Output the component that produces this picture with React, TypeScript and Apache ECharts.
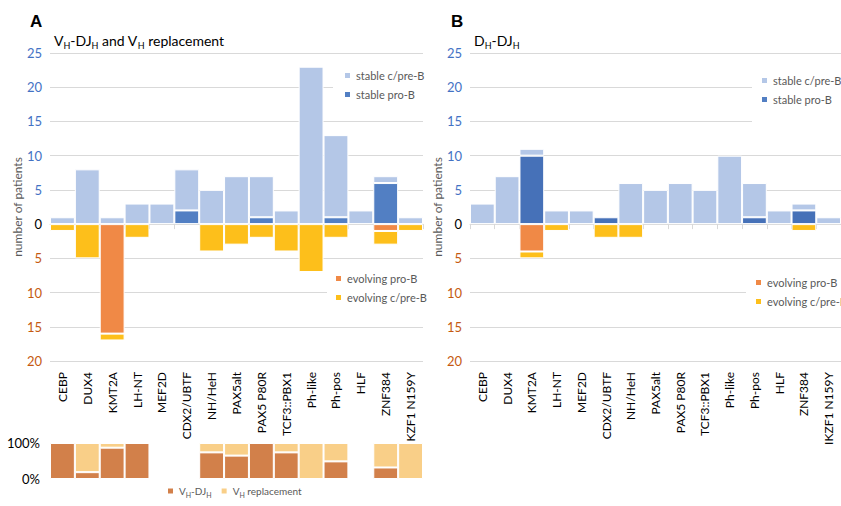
import React, { useEffect, useRef } from "react";
import * as echarts from "echarts";

const categoriesA = ["CEBP", "DUX4", "KMT2A", "LH-NT", "MEF2D", "CDX2/UBTF", "NH/HeH", "PAX5alt", "PAX5 P80R", "TCF3::PBX1", "Ph-like", "Ph-pos", "HLF", "ZNF384", "KZF1 N159Y"];
const categoriesB = ["CEBP", "DUX4", "KMT2A", "LH-NT", "MEF2D", "CDX2/UBTF", "NH/HeH", "PAX5alt", "PAX5 P80R", "TCF3::PBX1", "Ph-like", "Ph-pos", "HLF", "ZNF384", "IKZF1 N159Y"];

// Panel A: VH-DJH and VH replacement
const aStablePro = [0, 0, 0, 0, 0, 2, 0, 0, 1, 0, 0, 1, 0, 6, 0];
const aStableCpre = [1, 8, 1, 3, 3, 6, 5, 7, 6, 2, 23, 12, 2, 1, 1];
const aEvolvingPro = [0, 0, 16, 0, 0, 0, 0, 0, 0, 0, 0, 0, 0, 1, 0];
const aEvolvingCpre = [1, 5, 1, 2, 0, 0, 4, 3, 2, 4, 7, 2, 0, 2, 1];

// Panel A bottom: share (%)
const shareVhDjh = [100, 19, 87, 100, 0, 0, 74, 65, 100, 74, 0, 49, 0, 32, 0];
const shareVhRepl = [0, 81, 13, 0, 0, 0, 26, 35, 0, 26, 100, 51, 0, 68, 100];

// Panel B: DH-DJH
const bStablePro = [0, 0, 10, 0, 0, 1, 0, 0, 0, 0, 0, 1, 0, 2, 0];
const bStableCpre = [3, 7, 1, 2, 2, 0, 6, 5, 6, 5, 10, 5, 2, 1, 1];
const bEvolvingPro = [0, 0, 4, 0, 0, 0, 0, 0, 0, 0, 0, 0, 0, 0, 0];
const bEvolvingCpre = [0, 0, 1, 1, 0, 2, 2, 0, 0, 0, 0, 0, 0, 1, 0];

const yMin = -20;
const yMax = 25;
const yStep = 5;

const C_LIGHT = "#B4C7E7";
const C_DARK_A = "#527FC3";
const C_DARK_B = "#4671B8";
const C_ORANGE = "#F08946";
const C_YELLOW = "#FDBF1B";
const C_VHDJH = "#D2804A";
const C_VHREPL = "#F9CF88";
const GRID = "#D9D9D9";
const FONT = "Lato";

const pos = (arr: number[]) => arr.map((v) => (v === 0 ? null : v));
const neg = (arr: number[]) => arr.map((v) => (v === 0 ? null : -v));

const subRich = {
  n: { fontSize: 14, fontWeight: "normal", fontFamily: FONT, color: "#000", lineHeight: 20, verticalAlign: "middle" },
  s: { fontSize: 9, fontWeight: "normal", fontFamily: FONT, color: "#000", verticalAlign: "bottom" },
};
const legRich = {
  n: { fontSize: 10, fontFamily: FONT, color: "#595959", lineHeight: 14, verticalAlign: "middle" },
  s: { fontSize: 7, fontFamily: FONT, color: "#595959", verticalAlign: "bottom" },
};

function mainYAxis(gridIndex: number, nameGap: number) {
  return {
    gridIndex,
    type: "value",
    min: yMin,
    max: yMax,
    interval: yStep,
    name: "number of patients",
    nameLocation: "middle",
    nameGap,
    nameRotate: 90,
    nameTextStyle: { fontSize: 12, color: "#595959", fontFamily: FONT },
    axisLine: { show: false },
    axisTick: { show: false },
    splitLine: { show: true, lineStyle: { color: GRID, width: 1 } },
    axisLabel: {
      fontSize: 13,
      fontFamily: FONT,
      margin: 8,
      formatter: (v: number) => String(Math.abs(v)),
      color: (v: any) => {
        const n = Number(v);
        return n > 0 ? "#4472C4" : n < 0 ? "#C55A11" : "#000";
      },
    },
  };
}

function zeroXAxis(gridIndex: number, data: string[]) {
  return {
    gridIndex,
    type: "category",
    data,
    axisLine: { show: true, onZero: true, lineStyle: { color: GRID } },
    axisTick: { show: true, length: 5, interval: 0, lineStyle: { color: GRID } },
    axisLabel: { show: false },
    splitLine: { show: false },
  };
}

function labelXAxis(gridIndex: number, data: string[]) {
  return {
    gridIndex,
    type: "category",
    data,
    position: "bottom",
    axisLine: { show: false, onZero: false },
    axisTick: { show: false },
    splitLine: { show: false },
    axisLabel: { rotate: 90, interval: 0, margin: 11, fontSize: 12, fontFamily: FONT, color: "#000" },
  };
}

const barBase = {
  type: "bar",
  barCategoryGap: "0%",
  itemStyle: { borderColor: "#ffffff", borderWidth: 1 },
};

function legendBox(data: string[], left: number, top: number, padding: number[]) {
  return {
    data,
    left,
    top,
    orient: "vertical",
    icon: "rect",
    itemWidth: 7,
    itemHeight: 7,
    itemGap: 8,
    padding,
    backgroundColor: "#ffffff",
    selectedMode: false,
    textStyle: { fontSize: 11, color: "#595959", fontFamily: FONT },
  };
}

export default function App() {
  const ref = useRef<HTMLDivElement>(null);

  useEffect(() => {
    if (!ref.current) return;
    const chart = echarts.init(ref.current, undefined, { renderer: "svg" });
    const option: any = {
      animation: false,
      backgroundColor: "#ffffff",
      textStyle: { fontFamily: FONT },
      title: [
        { text: "A", left: 30, top: 13, padding: 0, textStyle: { fontSize: 17, fontWeight: "bold", fontFamily: "Liberation Sans", color: "#000" } },
        {
          text: "{n|V}{s|H}{n|-DJ}{s|H}{n| and V}{s|H}{n| replacement}",
          left: 54,
          top: 30,
          padding: 0,
          textStyle: { fontWeight: "normal", rich: subRich },
        },
        { text: "B", left: 451, top: 13, padding: 0, textStyle: { fontSize: 17, fontWeight: "bold", fontFamily: "Liberation Sans", color: "#000" } },
        {
          text: "{n|D}{s|H}{n|-DJ}{s|H}",
          left: 474,
          top: 30,
          padding: 0,
          textStyle: { fontWeight: "normal", rich: subRich },
        },
      ],
      grid: [
        { left: 50, top: 53, width: 373, height: 308 },
        { left: 50, top: 443, width: 373, height: 36 },
        { left: 470, top: 53, width: 373, height: 308 },
      ],
      xAxis: [
        zeroXAxis(0, categoriesA),
        labelXAxis(0, categoriesA),
        { gridIndex: 1, type: "category", data: categoriesA, show: false },
        zeroXAxis(2, categoriesB),
        labelXAxis(2, categoriesB),
      ],
      yAxis: [
        mainYAxis(0, 26),
        {
          gridIndex: 1,
          type: "value",
          min: 0,
          max: 100,
          interval: 100,
          axisLine: { show: false },
          axisTick: { show: false },
          splitLine: { show: false },
          axisLabel: { formatter: "{value}%", fontSize: 13, fontFamily: FONT, color: "#000", margin: 10 },
        },
        mainYAxis(2, 24),
      ],
      legend: [
        legendBox(["stable c/pre-B", "stable pro-B"], 333, 66, [4, 6, 8, 10]),
        legendBox(["evolving pro-B", "evolving c/pre-B"], 327, 269, [4, 6, 6, 7]),
        legendBox(["stable c/pre-B", "stable pro-B"], 752, 68, [7, 4, 18, 8]),
        legendBox(["evolving pro-B", "evolving c/pre-B"], 746, 273, [4, 6, 6, 8]),
        {
          data: ["VH-DJH", "VH replacement"],
          left: 166,
          top: 486,
          orient: "horizontal",
          icon: "rect",
          itemWidth: 7,
          itemHeight: 7,
          itemGap: 8,
          padding: 0,
          selectedMode: false,
          formatter: (name: string) =>
            name === "VH-DJH" ? "{n|V}{s|H}{n|-DJ}{s|H}" : "{n|V}{s|H}{n| replacement}",
          textStyle: { fontSize: 10, color: "#595959", fontFamily: FONT, rich: legRich },
        },
      ],
      series: [
        { ...barBase, name: "stable pro-B", xAxisIndex: 0, yAxisIndex: 0, stack: "A", color: C_DARK_A, data: pos(aStablePro) },
        { ...barBase, name: "stable c/pre-B", xAxisIndex: 0, yAxisIndex: 0, stack: "A", color: C_LIGHT, data: pos(aStableCpre) },
        { ...barBase, name: "evolving pro-B", xAxisIndex: 0, yAxisIndex: 0, stack: "A", color: C_ORANGE, data: neg(aEvolvingPro) },
        { ...barBase, name: "evolving c/pre-B", xAxisIndex: 0, yAxisIndex: 0, stack: "A", color: C_YELLOW, data: neg(aEvolvingCpre) },
        { ...barBase, name: "VH-DJH", xAxisIndex: 2, yAxisIndex: 1, stack: "C", color: C_VHDJH, data: pos(shareVhDjh) },
        { ...barBase, name: "VH replacement", xAxisIndex: 2, yAxisIndex: 1, stack: "C", color: C_VHREPL, data: pos(shareVhRepl) },
        { ...barBase, name: "stable pro-B", xAxisIndex: 3, yAxisIndex: 2, stack: "B", color: C_DARK_B, data: pos(bStablePro) },
        { ...barBase, name: "stable c/pre-B", xAxisIndex: 3, yAxisIndex: 2, stack: "B", color: C_LIGHT, data: pos(bStableCpre) },
        { ...barBase, name: "evolving pro-B", xAxisIndex: 3, yAxisIndex: 2, stack: "B", color: C_ORANGE, data: neg(bEvolvingPro) },
        { ...barBase, name: "evolving c/pre-B", xAxisIndex: 3, yAxisIndex: 2, stack: "B", color: C_YELLOW, data: neg(bEvolvingCpre) },
      ],
    };
    chart.setOption(option);
    return () => chart.dispose();
  }, []);

  return (
    <div
      ref={ref}
      style={{ position: "fixed", left: 0, top: 0, width: 841, height: 506, background: "#fff" }}
    />
  );
}
